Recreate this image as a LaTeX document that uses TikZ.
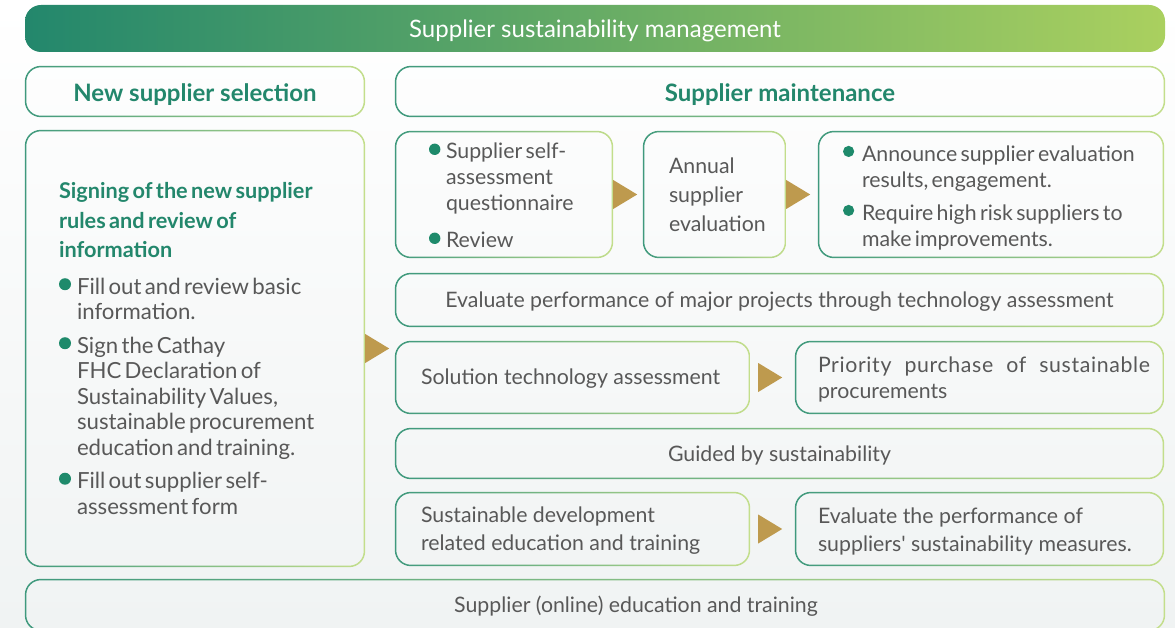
\documentclass[tikz,border=0pt]{standalone}
\usepackage{fontspec}
\setmainfont{Lato}[Ligatures=TeXOff]
\usetikzlibrary{calc}
\setlength\parindent{0pt}
\definecolor{bannerL}{HTML}{23876C}
\definecolor{bannerR}{HTML}{AAD05F}
\definecolor{borderL}{HTML}{3F997D}
\definecolor{borderR}{HTML}{C3DE8B}
\definecolor{hdr}{HTML}{23876C}
\definecolor{bodyc}{HTML}{585858}
\definecolor{bulletc}{HTML}{1E8A6B}
\definecolor{gold}{HTML}{BE9A4E}
\definecolor{bgB}{HTML}{F0F3F3}
\newcommand\bdot[1][5.5pt]{\raisebox{\dimexpr0.72em-2\dimexpr#1\relax\relax}{\tikz\fill[bulletc] (0pt,0pt) circle (#1);}}
\newcommand\bitem[3][18pt]{\par\noindent\hangindent=#1\hangafter=1\makebox[#1][l]{\bdot[#2]}#3\par}
\newcommand\ring[1]{\path[shade, left color=borderL, right color=borderR, even odd rule, rounded corners=16pt]
  (#1.south west) rectangle (#1.north east)
  [rounded corners=14.5pt] ([shift={(1.5pt,1.5pt)}]#1.south west) rectangle ([shift={(-1.5pt,-1.5pt)}]#1.north east);}
\newcommand\arrowtri[1]{\fill[gold] (#1) ++(0,-14.5) -- ++(24,14.5) -- ++(-24,14.5) -- cycle;}
\tikzset{
  gbox/.style={rectangle, inner sep=0pt, font=\fontsize{21.3}{25}\selectfont, text=bodyc, text height=15.3pt, text depth=0pt},
  hdrtxt/.style={font=\bfseries\fontsize{24}{28}\selectfont, text=hdr, text height=20.3pt},
  txt/.style={inner sep=0pt, align=left, text=bodyc, anchor=west},
}
\begin{document}
\begin{tikzpicture}[x=1pt,y=-1pt]
\useasboundingbox (0,0) rectangle (1175,628);
\fill[top color=white, bottom color=bgB] (0,0) rectangle (1175,628);
% banner
\node[rectangle, rounded corners=16pt, left color=bannerL, right color=bannerR, minimum width=1140pt, minimum height=47pt, inner sep=0pt, text=white, font=\fontsize{24}{28}\selectfont, text height=18.3pt, text depth=0pt] (banner) at (595,28.5) {Supplier sustainability management};
% headers
\node[gbox, hdrtxt, minimum width=340pt, minimum height=51pt] (hdrL) at (195,91.5) {New supplier selection};
\node[gbox, hdrtxt, minimum width=770pt, minimum height=51pt] (hdrR) at (780,91.5) {Supplier maintenance};
% boxes
\node[gbox, minimum width=340pt, minimum height=437pt] (left) at (195,348.5) {};
\node[gbox, minimum width=218pt, minimum height=127pt] (a1) at (504,194.5) {};
\node[gbox, minimum width=143pt, minimum height=127pt] (a2) at (714.5,194.5) {};
\node[gbox, minimum width=346pt, minimum height=127pt] (a3) at (991,194.5) {};
\node[gbox, minimum width=769pt, minimum height=54pt] (r2) at (779.5,300) {Evaluate performance of major projects through technology assessment};
\node[gbox, minimum width=355pt, minimum height=73pt] (b1) at (572.5,377.5) {};
\node[gbox, minimum width=369pt, minimum height=73pt] (b2) at (979.5,377.5) {};
\node[gbox, minimum width=769pt, minimum height=51pt] (r4) at (779.5,453.5) {Guided by sustainability};
\node[gbox, minimum width=355pt, minimum height=74pt] (c1) at (572.5,529) {};
\node[gbox, minimum width=369pt, minimum height=74pt] (c2) at (979.5,529) {};
\node[gbox, minimum width=1140pt, minimum height=52pt] (bottom) at (595,605) {\hspace*{82pt}Supplier (online) education and training};
\foreach \n in {hdrL,hdrR,left,a1,a2,a3,r2,b1,b2,r4,c1,c2,bottom} {\ring{\n}}
% texts
\node[txt, text width=300pt] (lefttxt) at ([xshift=34pt]left.west) {%
  {\color{hdr}\bfseries\fontsize{21.7}{29.5}\selectfont Signing of the new supplier\newline rules and review of\newline information\par}
  \vspace{11pt}
  \fontsize{22.2}{25.5}\selectfont
  \bitem{6pt}{Fill out and review basic\newline information.}
  \vspace{8pt}
  \bitem{6pt}{Sign the Cathay\newline FHC Declaration of\newline Sustainability Values,\newline sustainable procurement\newline education and training.}
  \vspace{8pt}
  \bitem{6pt}{Fill out supplier self-\newline assessment form}};
\node[txt, text width=175pt] (a1txt) at ([xshift=34pt, yshift=4pt]a1.west) {%
  \fontsize{21.3}{26}\selectfont
  \bitem[17pt]{5.7pt}{Supplier self-\newline assessment\newline questionnaire}
  \vspace{11pt}
  \bitem[17pt]{5.7pt}{Review}};
\node[txt, text width=110pt, font=\fontsize{21.3}{29}\selectfont] (a2txt) at ([xshift=26pt]a2.west) {Annual\\supplier\\evaluation};
\node[txt, text width=320pt] (a3txt) at ([xshift=25pt, yshift=2pt]a3.west) {%
  \fontsize{21.3}{26}\selectfont
  \bitem[19pt]{5.6pt}{Announce supplier evaluation\newline results, engagement.}
  \vspace{7pt}
  \bitem[19pt]{5.6pt}{Require high risk suppliers to\newline make improvements.}};
\node[txt, font=\fontsize{21.3}{25}\selectfont] (b1txt) at ([xshift=26pt, yshift=-1pt]b1.west) {Solution technology assessment};
\node[txt, font=\fontsize{21.3}{26}\selectfont] (b2txt) at ([xshift=23pt, yshift=-2pt]b2.west) {\makebox[332pt][s]{\addfontfeature{LetterSpace=3}Priority purchase of sustainable}\\procurements};
\node[txt, font=\fontsize{21.3}{28}\selectfont] (c1txt) at ([xshift=26pt, yshift=-2pt]c1.west) {Sustainable development\\related education and training};
\node[txt, font=\fontsize{21.3}{28}\selectfont] (c2txt) at ([xshift=23pt, yshift=-2pt]c2.west) {Evaluate the performance of\\suppliers' sustainability measures.};
% arrows
\arrowtri{left.east}
\arrowtri{a1.east}
\arrowtri{a2.east}
\arrowtri{$(b1.east)+(8,0)$}
\arrowtri{$(c1.east)+(8,0)$}
\end{tikzpicture}
\end{document}
